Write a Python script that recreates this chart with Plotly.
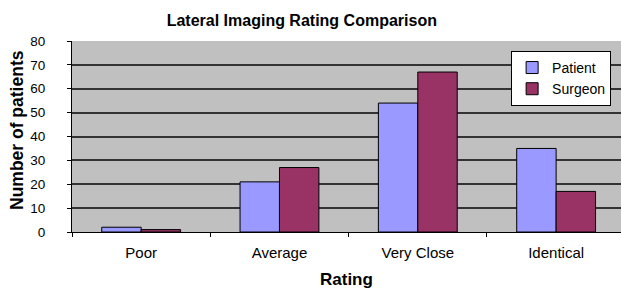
import plotly.graph_objects as go

categories = ["Poor", "Average", "Very Close", "Identical"]
patient = [2, 21, 54, 35]
surgeon = [1, 27, 67, 17]
y_ticks = [0, 10, 20, 30, 40, 50, 60, 70, 80]

fig = go.Figure()
fig.add_trace(go.Bar(name="Patient", x=categories, y=patient,
                     marker=dict(color="#9999FF", line=dict(color="#000000", width=1))))
fig.add_trace(go.Bar(name="Surgeon", x=categories, y=surgeon,
                     marker=dict(color="#993366", line=dict(color="#000000", width=1))))

font_family = "Liberation Sans, Arial, sans-serif"

fig.update_layout(
    width=621, height=291,
    margin=dict(l=72, r=0, t=41, b=59),
    paper_bgcolor="white",
    plot_bgcolor="#C0C0C0",
    barmode="group",
    bargap=0.43,
    bargroupgap=0,
    font=dict(family=font_family, color="black", size=15),
    title=dict(text="<b>Lateral Imaging Rating Comparison</b>", x=0.486, xanchor="center",
               y=1 - 20 / 291, yanchor="middle", yref="container",
               font=dict(size=16, family=font_family)),
    legend=dict(x=0.982, xanchor="right", y=0.948, yanchor="top",
                bgcolor="white", bordercolor="black", borderwidth=1,
                font=dict(size=14), tracegroupgap=0, itemwidth=30),
    showlegend=True,
    annotations=[
        dict(text="<b>Rating</b>", xref="paper", yref="paper", x=0.5, y=(232 - 279) / 191,
             xanchor="center", yanchor="middle", showarrow=False, font=dict(size=17)),
        dict(text="<b>Number of patients</b>", xref="paper", yref="paper",
             x=(17 - 72) / 549, y=(232 - 130) / 191, xanchor="center", yanchor="middle",
             textangle=-90, showarrow=False, font=dict(size=17.5)),
    ],
)
fig.update_xaxes(
    type="category",
    range=[-0.5, 3.469],
    automargin=False,
    showline=True, linecolor="black", linewidth=1,
    ticks="outside", tickson="boundaries", ticklen=4, tickcolor="black",
    ticklabelstandoff=7,
    tickfont=dict(size=15),
    showgrid=False,
)
fig.update_yaxes(
    range=[0, 80], tickvals=y_ticks,
    automargin=False,
    showline=True, linecolor="black", linewidth=1,
    ticks="outside", ticklen=4, tickcolor="black",
    ticklabelstandoff=19,
    tickfont=dict(size=13.5),
    showgrid=True, gridcolor="#333333", gridwidth=1.5,
    zeroline=False,
)

fig.write_html("out.html", config={"displayModeBar": False},
               post_script="document.body.style.margin='0';")
